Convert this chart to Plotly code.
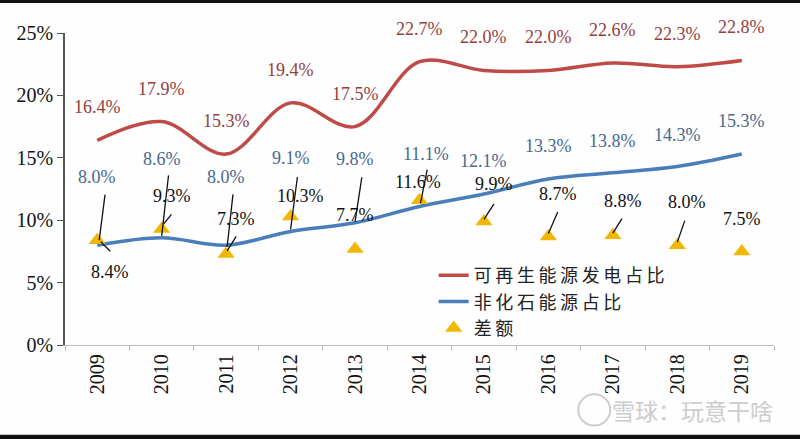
import plotly.graph_objects as go

years = ["2009", "2010", "2011", "2012", "2013", "2014", "2015", "2016", "2017", "2018", "2019"]
renewable = [16.4, 17.9, 15.3, 19.4, 17.5, 22.7, 22.0, 22.0, 22.6, 22.3, 22.8]
nonfossil = [8.0, 8.6, 8.0, 9.1, 9.8, 11.1, 12.1, 13.3, 13.8, 14.3, 15.3]
gap = [8.4, 9.3, 7.3, 10.3, 7.7, 11.6, 9.9, 8.7, 8.8, 8.0, 7.5]
yticks = [0, 5, 10, 15, 20, 25]

names = ["可再生能源发电占比", "非化石能源占比", "差额"]

RED = "#BE4B48"
RED_TXT = "#94403F"
BLUE = "#4A7EBB"
BLUE_TXT = "#48698C"
GOLD = "#F2B705"
SERIF = "Liberation Serif, Times New Roman, serif"
CJK = "Noto Sans CJK SC"

# label offsets in pixels (style)
blue_dy = [68, 79, 68, 73, 64, 52, 33, 33, 32, 32, 33]
blue_dx = [0, 0, 0, 0, 0, 6, 0, 0, 0, 0, 0]
gap_lbl = [(13, 32), (10, -33), (10, -35), (10, -20), (0, -34), (-2, -18),
           (10, -37), (10, -42), (10, -34), (10, -43), (0, -32)]
# leader lines: (tail dx, tail dy, head dx, head dy) in screen pixels relative to marker
leaders = {
    0: [(8, -47, 2, 0), (2, 0, 13, 11)],
    1: [(7, -55, 0, 7), (11, -16, 2, -5)],
    2: [(7, -61, 1, -7), (11, -19, 1, -3)],
    3: [(7, -41, 0, 13)],
    4: [(7, -73, 0, -27)],
    5: [(8, -32, 1, 3)],
    6: [(11, -19, 0, -2)],
    7: [(10, -26, 0, -3)],
    8: [(10, -18, 0, -2)],
    9: [(8, -26, 0, -3)],
}

def spaced(s):
    return "\u2009".join(s)

fig = go.Figure()
fig.add_trace(go.Scatter(x=years, y=renewable, mode="lines", name=spaced(names[0]),
                         line=dict(color=RED, width=3.5, shape="spline", smoothing=1.0),
                         legendgroup="a"))
fig.add_trace(go.Scatter(x=years, y=nonfossil, mode="lines", name=spaced(names[1]),
                         line=dict(color=BLUE, width=3.5, shape="spline", smoothing=1.0),
                         legendgroup="b"))
fig.add_trace(go.Scatter(x=years, y=gap, mode="markers", name=spaced(names[2]),
                         marker=dict(symbol="triangle-up", size=15, color=GOLD),
                         legendgroup="c"))

ann = []
for i, y in enumerate(years):
    ann.append(dict(x=i, y=renewable[i], text=f"{renewable[i]:.1f}%", showarrow=False,
                    yshift=33, font=dict(family=SERIF, size=18, color=RED_TXT)))
    ann.append(dict(x=i, y=nonfossil[i], text=f"{nonfossil[i]:.1f}%", showarrow=False,
                    yshift=blue_dy[i], xshift=blue_dx[i], font=dict(family=SERIF, size=18, color=BLUE_TXT)))
    dx, dy = gap_lbl[i]
    ann.append(dict(x=i, y=gap[i], text=f"{gap[i]:.1f}%", showarrow=False,
                    xshift=dx, yshift=-dy, font=dict(family=SERIF, size=18, color="#111111")))
    for (tx, ty, hx, hy) in leaders.get(i, []):
        ann.append(dict(x=i, y=gap[i], text="", showarrow=True, arrowhead=0, arrowwidth=1.3,
                        arrowcolor="#111111", xshift=hx, yshift=-hy, ax=tx - hx, ay=ty - hy,
                        standoff=0, startstandoff=0))

ann.append(dict(xref="paper", yref="paper", x=1.002, y=-0.208, xanchor="right", yanchor="middle",
                text="雪球：玩意干啥", showarrow=False,
                font=dict(family=CJK, size=23, color="#CDCDCD")))

shapes = [
    dict(type="rect", xref="paper", yref="paper", x0=-0.2, x1=1.2, y0=1.096, y1=1.2,
         fillcolor="#111111", line=dict(width=0), layer="above"),
    dict(type="rect", xref="paper", yref="paper", x0=-0.2, x1=1.2, y0=-0.4, y1=-0.288,
         fillcolor="#111111", line=dict(width=0), layer="above"),
    dict(type="circle", xref="paper", yref="paper", x0=0.724, x1=0.769, y0=-0.258, y1=-0.158,
         line=dict(color="#CDCDCD", width=2)),
]

fig.update_layout(
    width=800, height=439,
    margin=dict(l=65, r=26, t=33, b=94),
    paper_bgcolor="#FEFEFE", plot_bgcolor="#FEFEFE",
    showlegend=True,
    legend=dict(x=0.52, y=0.282, xanchor="left", yanchor="top", bgcolor="rgba(0,0,0,0)",
                font=dict(family=CJK, size=18, color="#222222"), tracegroupgap=0),
    annotations=ann,
    shapes=shapes,
    xaxis=dict(type="category", range=[-0.5, 10.5], showline=True, linecolor="#BDBDBD", linewidth=1.3,
               ticks="outside", tickson="boundaries", ticklen=5, tickcolor="#BDBDBD",
               tickangle=-90, tickfont=dict(family=SERIF, size=20, color="#111111"),
               showgrid=False, zeroline=False),
    yaxis=dict(range=[0, 25], tickvals=yticks, ticktext=[f"{v}%" for v in yticks],
               showline=True, linecolor="#555555", linewidth=1.5, ticks="outside",
               ticklen=6, tickcolor="#555555", tickfont=dict(family=SERIF, size=20, color="#111111"),
               showgrid=False, zeroline=False),
)

fig.write_html("out.html")
